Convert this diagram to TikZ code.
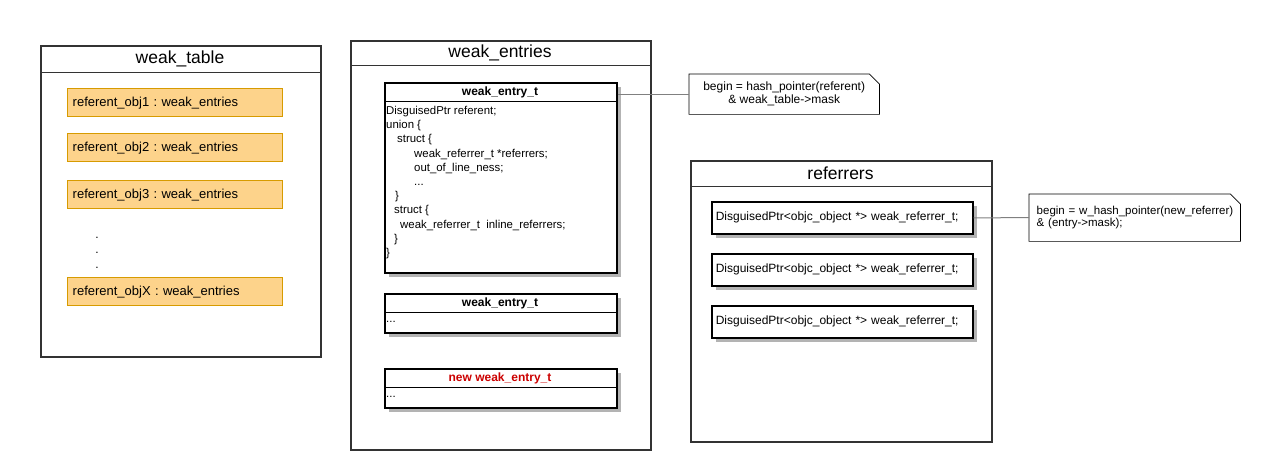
\documentclass[tikz,border=0pt]{standalone}
\usepackage{fontspec}
\setmainfont{Liberation Sans}
\usetikzlibrary{calc,shadows}
\definecolor{orfill}{HTML}{FDD38B}
\definecolor{orline}{HTML}{D79B00}
\definecolor{frame}{HTML}{333333}
\definecolor{shade}{HTML}{B3B3B3}
\definecolor{newred}{HTML}{CC0000}
\definecolor{conncol}{HTML}{808080}
\frenchspacing
\begin{document}
\begin{tikzpicture}[x=1pt,y=-1pt,
  container/.style={draw=frame, line width=1.6pt, fill=white, anchor=north west, inner sep=0pt},
  sepline/.style={draw=frame, line width=0.9pt},
  bigtitle/.style={font=\fontsize{17.5}{20}\selectfont, inner sep=0pt},
  orbox/.style={draw=orline, fill=orfill, line width=1.4pt, anchor=north west, minimum width=215pt, minimum height=28pt, text width=205pt, inner xsep=5pt, inner ysep=0pt, align=left, font=\fontsize{13}{15}\selectfont},
  entrybox/.style={draw=black, line width=1.6pt, fill=white, anchor=north west, inner sep=0pt, minimum width=232pt,
     drop shadow={shadow xshift=4.5pt, shadow yshift=-4.5pt, fill=shade, opacity=1}},
  entryhead/.style={font=\fontsize{12}{14}\selectfont\bfseries, inner sep=0pt},
  codetext/.style={font=\fontsize{11.4}{14.2}\selectfont, inner sep=0pt, align=left},
  refbox/.style={draw=black, line width=1.6pt, fill=white, anchor=north west, minimum width=261pt, minimum height=32pt, text width=253pt, inner xsep=4pt, inner ysep=0pt, align=left, font=\fontsize{12}{14}\selectfont,
     drop shadow={shadow xshift=4.5pt, shadow yshift=-4.5pt, fill=shade, opacity=1}},
  notebox/.style={anchor=north west, inner sep=0pt, font=\fontsize{12}{13}\selectfont},
  notedraw/.style={draw=black, line width=0.7pt},
  conn/.style={draw=conncol, line width=1pt},
  dottext/.style={font=\fontsize{12}{14}\selectfont, inner sep=0pt}
]
\useasboundingbox (0,0) rectangle (1269,470);

% ---------- weak_table ----------
\node[container, minimum width=280pt, minimum height=311pt] (wt) at (40,45) {};
\draw[sepline] ($(wt.north west)+(0,27)$) -- ($(wt.north east)+(0,27)$);
\node[bigtitle] (wtt) at (180,58.5) {weak\_table};
\node[orbox] (o1) at (67,88) {referent\_obj1 : weak\_entries};
\node[orbox] (o2) at (67,133) {referent\_obj2 : weak\_entries};
\node[orbox] (o3) at (67,180) {referent\_obj3 : weak\_entries};
\node[dottext] (d1) at (97,238) {.};
\node[dottext] (d2) at (97,253) {.};
\node[dottext] (d3) at (97,268) {.};
\node[orbox] (ox) at (67,277) {referent\_objX : weak\_entries};

% ---------- weak_entries ----------
\node[container, minimum width=300pt, minimum height=409pt] (we) at (350,40) {};
\draw[sepline] ($(we.north west)+(0,25)$) -- ($(we.north east)+(0,25)$);
\node[bigtitle] (wet) at (500,52.5) {weak\_entries};

\node[entrybox, minimum height=190pt] (e1) at (384,82) {};
\draw[sepline, draw=black] ($(e1.north west)+(0,19)$) -- ($(e1.north east)+(0,19)$);
\node[entryhead] (e1h) at (500,92.5) {weak\_entry\_t};
\node[codetext, anchor=north west] (e1c) at (386,106) {DisguisedPtr referent;\\
union \{\\
\hspace*{11pt}struct \{\\
\hspace*{28pt}weak\_referrer\_t *referrers;\\
\hspace*{28pt}out\_of\_line\_ness;\\
\hspace*{28pt}...\\
\hspace*{9pt}\}\\
\hspace*{8pt}struct \{\\
\hspace*{14pt}weak\_referrer\_t\ \ inline\_referrers;\\
\hspace*{8pt}\}\\
\}};

\node[entrybox, minimum height=39pt] (e2) at (384,293) {};
\draw[sepline, draw=black] ($(e2.north west)+(0,19)$) -- ($(e2.north east)+(0,19)$);
\node[entryhead] (e2h) at (500,303.5) {weak\_entry\_t};
\node[codetext, anchor=west] (e2c) at (386,322) {...};

\node[entrybox, minimum height=39pt] (e3) at (384,368) {};
\draw[sepline, draw=black] ($(e3.north west)+(0,19)$) -- ($(e3.north east)+(0,19)$);
\node[entryhead, text=newred] (e3h) at (500,378.5) {new weak\_entry\_t};
\node[codetext, anchor=west] (e3c) at (386,397) {...};

% ---------- note 1 ----------
\node[notebox, minimum width=190pt, minimum height=40pt, align=center] (n1) at (689,74) {begin = hash\_pointer(referent)\\ \& weak\_table->mask};
\path[notedraw] (n1.north west) -- ($(n1.north east)+(-10,0)$) -- ($(n1.north east)+(0,10)$) -- (n1.south east) -- (n1.south west) -- cycle;
\draw[conn] (e1.east |- n1.west) -- (n1.west);

% ---------- referrers ----------
\node[container, minimum width=301pt, minimum height=281pt] (rf) at (690,160) {};
\draw[sepline] ($(rf.north west)+(0,26)$) -- ($(rf.north east)+(0,26)$);
\node[bigtitle] (rft) at (840.5,173) {referrers};
\node[refbox] (r1) at (711,201) {DisguisedPtr<objc\_object *> weak\_referrer\_t;};
\node[refbox] (r2) at (711,253) {DisguisedPtr<objc\_object *> weak\_referrer\_t;};
\node[refbox] (r3) at (711,305) {DisguisedPtr<objc\_object *> weak\_referrer\_t;};

% ---------- note 2 ----------
\node[notebox, minimum width=211pt, minimum height=47pt, text width=196pt, inner xsep=7.5pt, align=left, font=\fontsize{11.5}{12.5}\selectfont] (n2) at (1029,194) {\mbox{begin = w\_hash\_pointer(new\_referrer)}\\ \& (entry->mask);};
\path[notedraw] (n2.north west) -- ($(n2.north east)+(-10,0)$) -- ($(n2.north east)+(0,10)$) -- (n2.south east) -- (n2.south west) -- cycle;
\draw[conn] (r1.east) -- (n2.west);
\end{tikzpicture}
\end{document}
